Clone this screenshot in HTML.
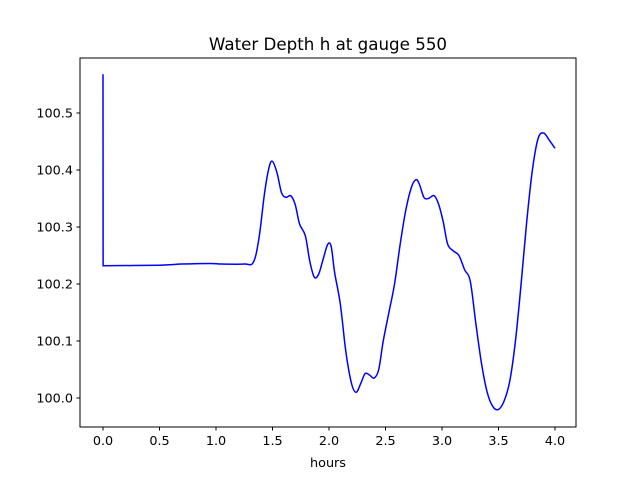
<!DOCTYPE html>
<html><head><meta charset="utf-8"><style>
html,body{margin:0;padding:0;background:#fff;}
svg text{font-family:"DejaVu Sans","Liberation Sans",sans-serif;fill:#000;}
</style></head><body>
<svg id="chart" width="640" height="480" xmlns="http://www.w3.org/2000/svg">
<rect width="640" height="480" fill="#fff"/>
<text x="328" y="50" font-size="16.7" text-anchor="middle">Water Depth h at gauge 550</text>
<g id="plot"></g>
<rect x="80" y="58" width="496" height="369" fill="none" stroke="#000" stroke-width="1"/>
<g id="xt"></g>
<g id="yt"></g>
<text x="328" y="467" font-size="12.8" text-anchor="middle">hours</text>
</svg>
<script>
const times=[0,0.001,0.5,0.7,0.95,1.05,1.25,1.33,1.38,1.43,1.47,1.5,1.54,1.58,1.62,1.66,1.7,1.74,1.79,1.83,1.87,1.91,1.95,1.99,2.02,2.05,2.1,2.15,2.2,2.24,2.28,2.32,2.36,2.4,2.44,2.48,2.53,2.58,2.63,2.68,2.73,2.77,2.8,2.84,2.88,2.93,2.97,3.01,3.05,3.1,3.15,3.2,3.25,3.3,3.35,3.4,3.45,3.5,3.55,3.6,3.65,3.7,3.75,3.8,3.85,3.9,3.95,4.0];
const depth=[100.568,100.232,100.233,100.235,100.236,100.235,100.235,100.238,100.28,100.36,100.405,100.415,100.395,100.36,100.352,100.355,100.34,100.305,100.285,100.24,100.212,100.218,100.245,100.27,100.265,100.22,100.165,100.08,100.025,100.01,100.025,100.043,100.04,100.035,100.05,100.1,100.15,100.2,100.27,100.33,100.37,100.383,100.375,100.352,100.35,100.355,100.34,100.31,100.27,100.258,100.25,100.225,100.205,100.13,100.06,100.01,99.985,99.98,99.995,100.03,100.1,100.2,100.31,100.4,100.455,100.465,100.452,100.438];
const xTicks=[0,0.5,1,1.5,2,2.5,3,3.5,4];
const xTickLabels=["0.0","0.5","1.0","1.5","2.0","2.5","3.0","3.5","4.0"];
const yTicks=[100.0,100.1,100.2,100.3,100.4,100.5];
const yTickLabels=["100.0","100.1","100.2","100.3","100.4","100.5"];
const X=t=>103+t*113, Y=v=>398-(v-100)*570;
const NS="http://www.w3.org/2000/svg";
const pts=times.map((t,i)=>[X(t),Y(depth[i])]);
let d="M"+pts[0][0]+","+pts[0][1]+" L"+pts[1][0]+","+pts[1][1];
for(let i=1;i<pts.length-1;i++){
 const p0=pts[Math.max(i-1,1)],p1=pts[i],p2=pts[i+1],p3=pts[Math.min(i+2,pts.length-1)];
 const c1x=p1[0]+(p2[0]-p0[0])/6,c1y=p1[1]+(p2[1]-p0[1])/6;
 const c2x=p2[0]-(p3[0]-p1[0])/6,c2y=p2[1]-(p3[1]-p1[1])/6;
 d+=" C"+c1x.toFixed(2)+","+c1y.toFixed(2)+" "+c2x.toFixed(2)+","+c2y.toFixed(2)+" "+p2[0].toFixed(2)+","+p2[1].toFixed(2);
}
const line=document.createElementNS(NS,"path");


line.setAttribute("d",d);
line.setAttribute("fill","none");line.setAttribute("stroke","#0000ff");line.setAttribute("stroke-width","1.5");
document.getElementById("plot").appendChild(line);
const xt=document.getElementById("xt");
xTicks.forEach((t,i)=>{
 const l=document.createElementNS(NS,"line");
 
 
 l.setAttribute("x1",X(t));l.setAttribute("x2",X(t));l.setAttribute("y1",427);l.setAttribute("y2",430.5);l.setAttribute("stroke","#000");
 xt.appendChild(l);
 const tx=document.createElementNS(NS,"text");
 
 
 tx.setAttribute("x",X(t));tx.setAttribute("y",445);tx.setAttribute("font-size","12.8");tx.setAttribute("text-anchor","middle");
 tx.textContent=xTickLabels[i];xt.appendChild(tx);
});
const yt=document.getElementById("yt");
yTicks.forEach((v,i)=>{
 const l=document.createElementNS(NS,"line");
 
 
 l.setAttribute("x1",76.5);l.setAttribute("x2",80);l.setAttribute("y1",Y(v));l.setAttribute("y2",Y(v));l.setAttribute("stroke","#000");
 yt.appendChild(l);
 const tx=document.createElementNS(NS,"text");
 
 
 tx.setAttribute("x",73);tx.setAttribute("y",Y(v)+4.5);tx.setAttribute("font-size","12.8");tx.setAttribute("text-anchor","end");
 tx.textContent=yTickLabels[i];yt.appendChild(tx);
});
</script>
</body></html>
